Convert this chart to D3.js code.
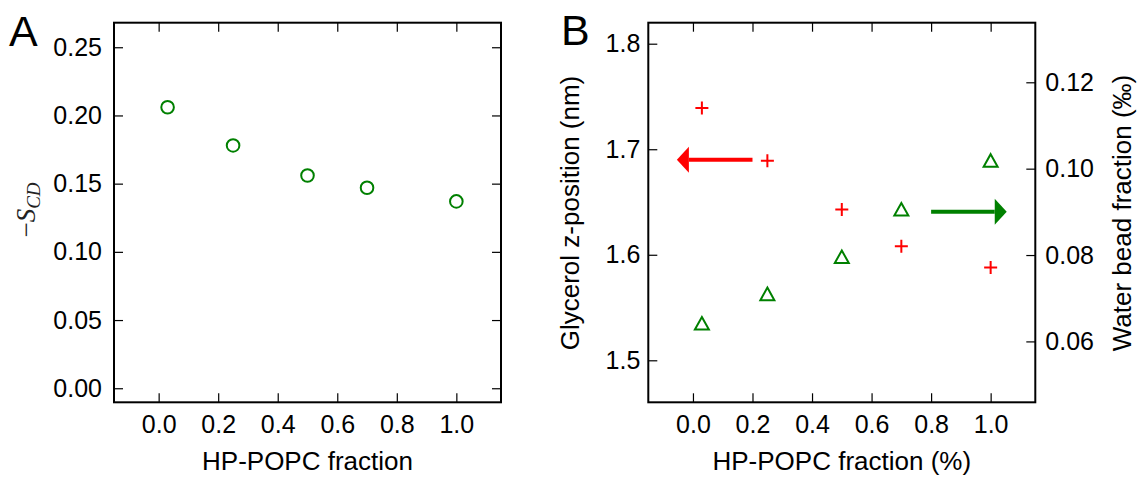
<!DOCTYPE html>
<html>
<head>
<meta charset="utf-8">
<script src="https://cdn.jsdelivr.net/npm/d3@7"></script>
<style>
  body { margin: 0; background: #fff; }
  text { font-family: "Liberation Sans", Arial, sans-serif; }
</style>
</head>
<body>
<script>
// data
var fracA = [0.03, 0.25, 0.5, 0.7, 1.0];
var scdA = [0.206, 0.178, 0.156, 0.147, 0.137];

var fracB = [0.03, 0.25, 0.5, 0.7, 1.0];
var glycerolZ = [1.739, 1.689, 1.643, 1.608, 1.588];
var waterFrac = [0.0642, 0.0710, 0.0796, 0.0906, 0.1019];

var xTicks = [0.0, 0.2, 0.4, 0.6, 0.8, 1.0];
var scdTicks = [0.00, 0.05, 0.10, 0.15, 0.20, 0.25];
var glyTicks = [1.5, 1.6, 1.7, 1.8];
var waterTicks = [0.06, 0.08, 0.10, 0.12];

// arrows pointing at the axis each series belongs to
var redArrowX = [0.2, -0.054], redArrowY = 1.69;
var greenArrowX = [0.8, 1.054], greenArrowY = 0.09;

var W = 1138, H = 478;
var green = "#008000", red = "#ff0000";
var tickLen = 9;

var svg = d3.select("body").append("svg")
    .attr("width", W)
    .attr("height", H);

var top_ = 22.7, bottom_ = 402.3;

function frame(g, x0, x1) {
    g.append("rect")
        .attr("x", x0).attr("y", top_)
        .attr("width", x1 - x0).attr("height", bottom_ - top_)
        .attr("fill", "none")
        .attr("stroke", "#000")
        .attr("stroke-width", 2);
}

function styleAxis(sel) {
    sel.select(".domain").remove();
    sel.selectAll(".tick line").attr("stroke", "#000").attr("stroke-width", 1.2);
    sel.selectAll(".tick text").attr("font-size", 25).attr("fill", "#000");
}

// ---------- panel A ----------
var xA = d3.scaleLinear().domain([-0.15, 1.15]).range([114, 501]);
var yA = d3.scaleLinear().domain([-0.0103, 0.268]).range([bottom_, top_]);

var gA = svg.append("g");

gA.append("g")
    .attr("transform", "translate(0," + bottom_ + ")")
    .call(d3.axisBottom(xA).tickValues(xTicks).tickFormat(d3.format(".1f"))
        .tickSize(-tickLen).tickPadding(13))
    .call(styleAxis);
gA.append("g")
    .attr("transform", "translate(0," + top_ + ")")
    .call(d3.axisTop(xA).tickValues(xTicks).tickFormat("").tickSize(-tickLen))
    .call(styleAxis);
gA.append("g")
    .attr("transform", "translate(114,0)")
    .call(d3.axisLeft(yA).tickValues(scdTicks).tickFormat(d3.format(".2f"))
        .tickSize(-tickLen).tickPadding(12))
    .call(styleAxis);
gA.append("g")
    .attr("transform", "translate(501,0)")
    .call(d3.axisRight(yA).tickValues(scdTicks).tickFormat("").tickSize(-tickLen))
    .call(styleAxis);

frame(gA, 114, 501);

gA.selectAll("circle.pt")
    .data(fracA.map(function(d, i) { return { x: d, y: scdA[i] }; }))
    .enter().append("circle")
    .attr("class", "pt")
    .attr("cx", function(d) { return xA(d.x); })
    .attr("cy", function(d) { return yA(d.y); })
    .attr("r", 6.3)
    .attr("fill", "none")
    .attr("stroke", green)
    .attr("stroke-width", 2);

gA.append("text")
    .attr("x", 307.5).attr("y", 470)
    .attr("text-anchor", "middle")
    .attr("font-size", 26)
    .text("HP-POPC fraction");

// -S_CD in a math-ish serif italic
var ylabA = gA.append("text")
    .attr("transform", "translate(35,210) rotate(-90)")
    .attr("text-anchor", "middle")
    .style("font-family", "'Liberation Serif', 'DejaVu Serif', serif")
    .attr("font-size", 27)
    .attr("fill", "#222");
ylabA.append("tspan").text("\u2212");
ylabA.append("tspan").attr("font-style", "italic").text("S");
ylabA.append("tspan").attr("font-style", "italic").attr("font-size", 19)
    .attr("dy", 5).text("CD");

gA.append("text")
    .attr("x", 9).attr("y", 46)
    .attr("font-size", 43)
    .text("A");

// ---------- panel B ----------
var xB = d3.scaleLinear().domain([-0.15, 1.15]).range([648.3, 1035.3]);
var yL = d3.scaleLinear().domain([1.4602, 1.8199]).range([bottom_, top_]);
var yR = d3.scaleLinear().domain([0.0459, 0.1338]).range([bottom_, top_]);

var gB = svg.append("g");

gB.append("g")
    .attr("transform", "translate(0," + bottom_ + ")")
    .call(d3.axisBottom(xB).tickValues(xTicks).tickFormat(d3.format(".1f"))
        .tickSize(-tickLen).tickPadding(13))
    .call(styleAxis);
gB.append("g")
    .attr("transform", "translate(0," + top_ + ")")
    .call(d3.axisTop(xB).tickValues(xTicks).tickFormat("").tickSize(-tickLen))
    .call(styleAxis);
gB.append("g")
    .attr("transform", "translate(648.3,0)")
    .call(d3.axisLeft(yL).tickValues(glyTicks).tickFormat(d3.format(".1f"))
        .tickSize(-tickLen).tickPadding(8))
    .call(styleAxis);
gB.append("g")
    .attr("transform", "translate(1035.3,0)")
    .call(d3.axisRight(yR).tickValues(waterTicks).tickFormat(d3.format(".2f"))
        .tickSize(-tickLen).tickPadding(10))
    .call(styleAxis);

frame(gB, 648.3, 1035.3);

// red plus markers, left axis
gB.selectAll("path.plus")
    .data(fracB.map(function(d, i) { return { x: d, y: glycerolZ[i] }; }))
    .enter().append("path")
    .attr("class", "plus")
    .attr("d", function(d) {
        var cx = xB(d.x), cy = yL(d.y), s = 6.5;
        return "M" + (cx - s) + "," + cy + "H" + (cx + s) +
               "M" + cx + "," + (cy - s) + "V" + (cy + s);
    })
    .attr("stroke", red)
    .attr("stroke-width", 2)
    .attr("fill", "none");

// green triangles, right axis
gB.selectAll("path.tri")
    .data(fracB.map(function(d, i) { return { x: d, y: waterFrac[i] }; }))
    .enter().append("path")
    .attr("class", "tri")
    .attr("d", function(d) {
        var cx = xB(d.x), cy = yR(d.y);
        return "M" + cx + "," + (cy - 6.3) +
               "L" + (cx + 7) + "," + (cy + 6.3) +
               "L" + (cx - 7) + "," + (cy + 6.3) + "Z";
    })
    .attr("fill", "none")
    .attr("stroke", green)
    .attr("stroke-width", 2)
    .attr("stroke-linejoin", "miter");

function arrow(g, x0, x1, y, color) {
    var dir = x1 < x0 ? -1 : 1;
    var headLen = 12, headHalf = 13;
    var base = x1 - dir * headLen;
    g.append("line")
        .attr("x1", x0).attr("x2", base)
        .attr("y1", y).attr("y2", y)
        .attr("stroke", color)
        .attr("stroke-width", 4);
    g.append("path")
        .attr("d", "M" + x1 + "," + y + "L" + base + "," + (y - headHalf) +
            "L" + base + "," + (y + headHalf) + "Z")
        .attr("fill", color);
}
arrow(gB, xB(redArrowX[0]), xB(redArrowX[1]), yL(redArrowY), red);
arrow(gB, xB(greenArrowX[0]), xB(greenArrowX[1]), yR(greenArrowY), green);

gB.append("text")
    .attr("x", 841.8).attr("y", 470)
    .attr("text-anchor", "middle")
    .attr("font-size", 26)
    .text("HP-POPC fraction (%)");

gB.append("text")
    .attr("transform", "translate(579,213) rotate(-90)")
    .attr("text-anchor", "middle")
    .attr("font-size", 26)
    .text("Glycerol z-position (nm)");

gB.append("text")
    .attr("transform", "translate(1131,213) rotate(-90)")
    .attr("text-anchor", "middle")
    .attr("font-size", 26)
    .text("Water bead fraction (\u2030)");

gB.append("text")
    .attr("x", 561).attr("y", 45)
    .attr("font-size", 43)
    .text("B");
</script>
</body>
</html>
